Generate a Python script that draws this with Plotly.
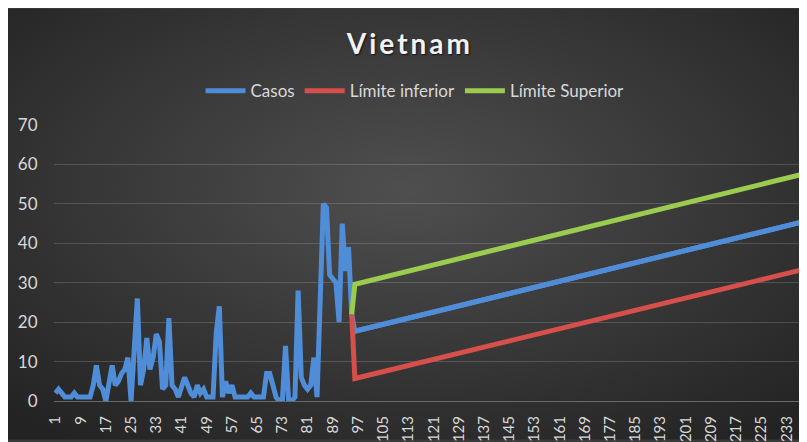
import base64
import plotly.graph_objects as go

# ---------------- data ----------------
dias = list(range(1, 96))
casos = [2, 3, 2, 1, 1, 1, 2, 1, 1, 1,
         1, 1, 4, 9, 4, 3, 0, 4, 9, 4,
         5, 7, 8, 11, 0, 13, 26, 4, 8, 16,
         8, 11, 17, 15, 3, 4, 21, 4, 3, 1,
         4, 6, 4, 2, 1, 4, 2, 3, 1, 1,
         1, 17, 24, 1, 5, 2, 4, 1, 1, 1,
         1, 1, 2, 1, 1, 1, 1, 7, 7, 4,
         1, 0, 0, 14, 0, 0, 1, 28, 6, 4,
         3, 4, 11, 1, 25, 50, 49, 32, 31, 30,
         20, 45, 33, 39, 22]

# forecast segment (read at start / end of the projection)
pron_x = [95, 96, 240]
pron_casos = [22, 17.7, 45.8]
lim_inf = [22, 5.7, 33.7]
lim_sup = [22, 29.6, 57.9]

tick_vals = [1, 9, 17, 25, 33, 41, 49, 57, 65, 73, 81, 89, 97, 105, 113,
             121, 129, 137, 145, 153, 161, 169, 177, 185, 193, 201, 209,
             217, 225, 233]
tick_text = [str(v) for v in tick_vals]

# ---------------- styling ----------------
W, H = 799, 434          # page body adds an 8px offset
ML, MR, MT, MB = 46, 0, 117, 39
PW, PH = W - ML - MR, H - MT - MB
FONT = "Lato, 'Open Sans', sans-serif"
TXT = "#d9d9d9"
BLUE, RED, GREEN = "#4f8dd8", "#d64f4b", "#9bcb4f"

svg = ('<svg xmlns="http://www.w3.org/2000/svg" width="799" height="434" '
       'preserveAspectRatio="none">'
       '<defs><radialGradient id="g" cx="50%" cy="42%" r="72%">'
       '<stop offset="0" stop-color="#4f4f4f"/>'
       '<stop offset="1" stop-color="#232323"/>'
       '</radialGradient></defs>'
       '<rect width="799" height="434" fill="url(#g)"/></svg>')
bg_src = "data:image/svg+xml;base64," + base64.b64encode(svg.encode()).decode()

fig = go.Figure()

casos_x = dias + pron_x[1:]
casos_y = casos + pron_casos[1:]

LW = 5
fig.add_trace(go.Scatter(x=casos_x, y=casos_y, mode="lines", name="Casos",
                         line=dict(color=BLUE, width=LW)))
fig.add_trace(go.Scatter(x=pron_x, y=lim_inf, mode="lines", name="Límite inferior",
                         line=dict(color=RED, width=LW)))
fig.add_trace(go.Scatter(x=pron_x, y=lim_sup, mode="lines", name="Límite Superior",
                         line=dict(color=GREEN, width=LW)))
fig.add_trace(go.Scatter(x=pron_x[1:], y=pron_casos[1:], mode="lines",
                         showlegend=False, hoverinfo="skip",
                         line=dict(color=BLUE, width=LW)))

fig.update_layout(
    width=W, height=H,
    margin=dict(l=ML, r=MR, t=MT, b=MB, pad=0),
    paper_bgcolor="#3a3a3a",
    plot_bgcolor="rgba(0,0,0,0)",
    font=dict(family=FONT, color=TXT),
    title=dict(text='<span style="letter-spacing:3px">Vietnam</span>',
               x=0.503, xanchor="center", y=1 - 36 / H, yanchor="middle",
               font=dict(family=FONT, size=28, color="#f2f2f2", weight="bold",
                         shadow="1px 1px 2px rgba(0,0,0,0.7)")),
    legend=dict(orientation="h", x=(407 - ML) / PW, xanchor="center",
                y=(H - MB - 83) / PH, yanchor="middle",
                bgcolor="rgba(0,0,0,0)", font=dict(size=17, color=TXT),
                itemwidth=40, tracegroupgap=0),
    showlegend=True,
    images=[dict(source=bg_src, xref="paper", yref="paper",
                 x=-ML / PW, y=(H - MB) / PH,
                 sizex=W / PW, sizey=H / PH,
                 xanchor="left", yanchor="top", sizing="stretch",
                 layer="below")],
)

fig.update_xaxes(range=[0.55, 239.45], tickmode="array",
                 tickvals=tick_vals, ticktext=tick_text, tickangle=-90,
                 tickfont=dict(size=15, color=TXT, family=FONT),
                 showgrid=False, zeroline=False,
                 showline=True, linecolor="#6a6a6a", linewidth=1,
                 ticks="outside", ticklen=8, tickcolor="rgba(0,0,0,0)")
fig.update_yaxes(range=[0, 70], dtick=10, tick0=0,
                 tickfont=dict(size=17, color=TXT, family=FONT),
                 showgrid=True, gridcolor="rgba(255,255,255,0.16)", gridwidth=1,
                 zeroline=False, showline=False,
                 ticks="outside", ticklen=12, tickcolor="rgba(0,0,0,0)")

fig.write_html("out.html")
